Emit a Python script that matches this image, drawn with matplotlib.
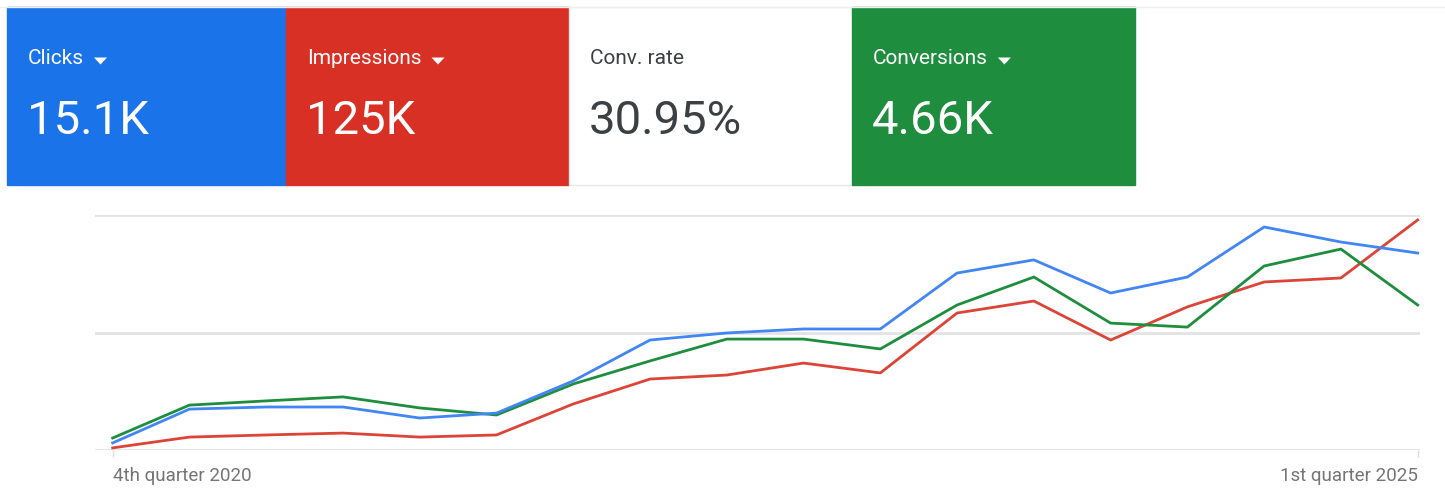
import matplotlib.pyplot as plt
from matplotlib.patches import Rectangle, Polygon

plt.rcParams['font.family'] = ['Roboto', 'DejaVu Sans']

# scorecard tiles
tile_labels = ['Clicks', 'Impressions', 'Conv. rate', 'Conversions']
tile_values = ['15.1K', '125K', '30.95%', '4.66K']
tile_colors = ['#1a73e8', '#d93025', '#ffffff', '#1e8e3e']
tile_dropdown = [True, True, False, True]

# quarterly series, scaled to the chart height (0 = bottom grid line, 100 = top)
quarters = ['4th quarter 2020'] + [f'{q} quarter {y}' for y in range(2021, 2025)
                                   for q in ['1st', '2nd', '3rd', '4th']] + ['1st quarter 2025']
clicks = [3.0, 17.4, 18.3, 18.3, 13.6, 15.7, 29.4, 46.8, 49.8, 51.5, 51.5, 75.3,
          80.9, 66.8, 73.6, 94.9, 88.5, 83.8]
impressions = [0.9, 5.5, 6.4, 7.2, 5.5, 6.4, 19.6, 30.2, 31.9, 37.0, 32.8, 58.3,
               63.4, 46.8, 60.9, 71.5, 73.2, 97.9]
conversions = [5.1, 19.1, 20.9, 22.6, 17.9, 14.9, 28.1, 37.9, 47.2, 47.2, 43.0, 61.7,
               73.6, 54.0, 52.3, 78.3, 85.5, 61.7]

W, H = 1445, 488
fig = plt.figure(figsize=(W / 100, H / 100), dpi=100)


def fx(px):
    return px / W


def fy(py):
    return 1 - py / H


# faint top rule
fig.add_artist(plt.Line2D([0, 1], [fy(7), fy(7)], color='#eeeeee', lw=1))

tile_left = [7, 286, 569, 852]
tile_right = [286, 569, 852, 1135]
renderer = fig.canvas.get_renderer()
for i, label in enumerate(tile_labels):
    x0, x1 = tile_left[i], tile_right[i]
    fc = tile_colors[i]
    ec = '#e6e6e6' if fc == '#ffffff' else fc
    fig.add_artist(Rectangle((fx(x0), fy(185)), fx(x1 - x0), (185 - 7) / H,
                             facecolor=fc, edgecolor=ec, lw=1, transform=fig.transFigure))
    tc = '#3c4043' if fc == '#ffffff' else 'white'
    tx = x0 + 21
    t = fig.text(fx(tx), fy(59), label, color=tc, fontsize=15, va='center', ha='left')
    fig.text(fx(tx - 1), fy(121), tile_values[i], color=tc, fontsize=34, va='center', ha='left')
    if tile_dropdown[i]:
        bb = t.get_window_extent(renderer)
        ax0 = bb.x1 + 10
        cy = fy(61) * H
        tri = Polygon([(ax0, cy + 3.5), (ax0 + 13, cy + 3.5), (ax0 + 6.5, cy - 3.5)],
                      closed=True, facecolor=tc, edgecolor='none', transform=None)
        fig.add_artist(tri)

# line chart
ax = fig.add_axes([fx(95), fy(450), fx(1420 - 95), (450 - 215) / H])
idx = list(range(len(quarters)))
ax.plot(idx, impressions, color='#db4437', lw=2.0, clip_on=False, zorder=3)
ax.plot(idx, conversions, color='#1e8e3e', lw=2.0, clip_on=False, zorder=3)
ax.plot(idx, clicks, color='#4285f4', lw=2.0, clip_on=False, zorder=4)

ax.set_xlim(-0.23, 17.03)
ax.set_ylim(0, 100)
for v in [0, 50, 100]:
    ax.axhline(v, color='#e3e3e3', lw=2, zorder=1)
for s in ax.spines.values():
    s.set_visible(False)
ax.set_yticks([])
ax.set_xticks([0, len(quarters) - 1])
ax.set_xticklabels([])
ax.tick_params(axis='x', length=5, width=1, color='#dddddd')
ax.text(0, -11, quarters[0], transform=ax.transData, ha='left', va='center',
        fontsize=13.5, color='#757575')
ax.text(len(quarters) - 1, -11, quarters[-1], transform=ax.transData, ha='right', va='center',
        fontsize=13.5, color='#757575')

fig.savefig('out.png', dpi=100)
